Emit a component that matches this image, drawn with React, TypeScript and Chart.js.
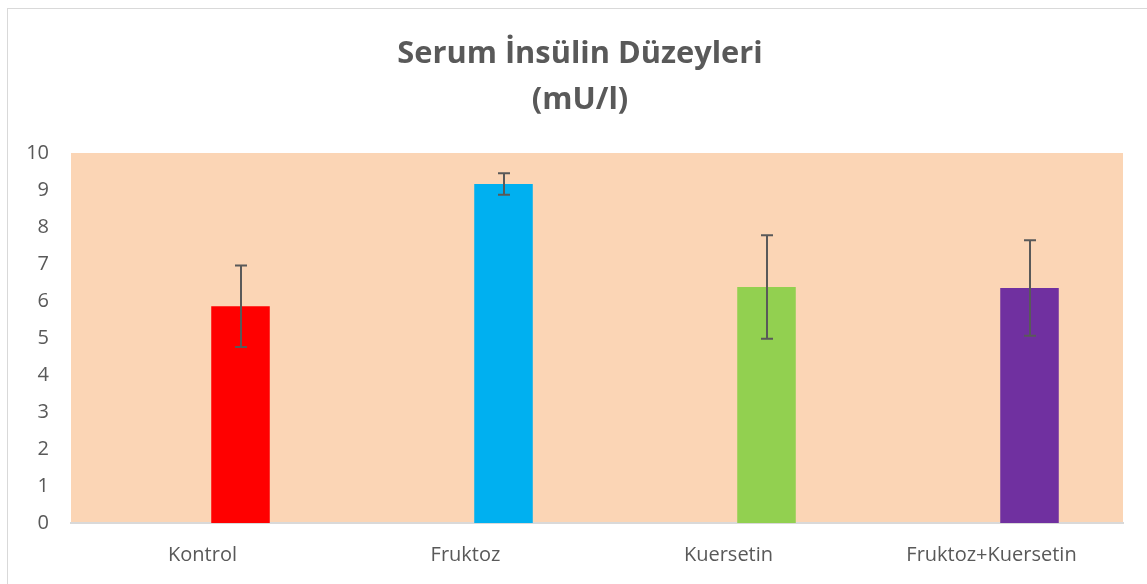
import React, { useEffect, useRef } from "react";
import { Chart, registerables } from "chart.js";

Chart.register(...registerables);

const categories = ["Kontrol", "Fruktoz", "Kuersetin", "Fruktoz+Kuersetin"];
const values = [5.86, 9.16, 6.38, 6.35];
const errors = [1.1, 0.29, 1.4, 1.29];
const barColors = ["#FF0000", "#00B0F0", "#92D050", "#7030A0"];
const titleLines = ["Serum İnsülin Düzeyleri", "(mU/l)"];
const yMin = 0;
const yMax = 10;
const yStep = 1;

const TEXT = "#595959";
const FONT = "'Open Sans', 'DejaVu Sans', sans-serif";

const plotBg = {
  id: "plotBg",
  beforeDraw(chart: any) {
    const { ctx, chartArea } = chart;
    ctx.save();
    ctx.fillStyle = "#FBD5B5";
    ctx.fillRect(chartArea.left, chartArea.top, chartArea.right - chartArea.left, chartArea.bottom - chartArea.top);
    ctx.restore();
  },
};

const errorBars = {
  id: "errorBars",
  afterDatasetsDraw(chart: any) {
    const { ctx } = chart;
    const meta = chart.getDatasetMeta(1);
    const ys = chart.scales.y;
    ctx.save();
    ctx.strokeStyle = "#595959";
    ctx.lineWidth = 2;
    meta.data.forEach((el: any, i: number) => {
      const v = values[i];
      const e = errors[i];
      const x = Math.round(el.x);
      const yt = ys.getPixelForValue(v + e);
      const yb = ys.getPixelForValue(v - e);
      const cap = 6;
      ctx.beginPath();
      ctx.moveTo(x, yt);
      ctx.lineTo(x, yb);
      ctx.moveTo(x - cap, yt);
      ctx.lineTo(x + cap, yt);
      ctx.moveTo(x - cap, yb);
      ctx.lineTo(x + cap, yb);
      ctx.stroke();
    });
    ctx.restore();
  },
};

export default function App() {
  const ref = useRef<HTMLCanvasElement>(null);
  useEffect(() => {
    document.documentElement.style.overflow = "hidden";
    document.body.style.overflow = "hidden";
    const chart = new Chart(ref.current as HTMLCanvasElement, {
      type: "bar",
      data: {
        labels: categories,
        datasets: [
          {
            label: "",
            data: categories.map(() => null),
            backgroundColor: "rgba(0,0,0,0)",
          },
          {
            label: "Serum İnsülin",
            data: values,
            backgroundColor: barColors,
            borderWidth: 0,
          },
        ],
      },
      options: {
        animation: false,
        responsive: false,
        maintainAspectRatio: false,
        layout: { padding: 0 },
        datasets: {
          bar: { categoryPercentage: 0.578, barPercentage: 0.77 },
        },
        plugins: {
          legend: { display: false },
          tooltip: { enabled: false },
          title: {
            display: true,
            text: titleLines,
            color: TEXT,
            font: { family: FONT, size: 30.8, weight: "bold", lineHeight: 46 / 30.8 },
            padding: { top: 21.9, bottom: 30.1 },
          },
        },
        scales: {
          x: {
            grid: { display: false, drawTicks: false },
            border: { display: true, color: "#D9D9D9", width: 2 },
            ticks: { color: TEXT, font: { family: FONT, size: 20 }, padding: 20, maxRotation: 0, autoSkip: false },
            afterFit(scale: any) {
              scale.height = 76;
            },
          },
          y: {
            min: yMin,
            max: yMax,
            grid: { display: false, drawTicks: false },
            border: { display: false },
            ticks: { stepSize: yStep, color: TEXT, font: { family: FONT, size: 20 }, padding: 22 },
            afterFit(scale: any) {
              scale.width = 63;
            },
          },
          yRight: {
            position: "right",
            min: yMin,
            max: yMax,
            grid: { display: false, drawTicks: false },
            border: { display: false },
            ticks: { display: false },
            afterFit(scale: any) {
              scale.width = 29;
            },
          },
        },
      },
      plugins: [plotBg, errorBars],
    } as any);
    return () => chart.destroy();
  }, []);
  return (
    <div
      style={{
        position: "absolute",
        left: 7,
        top: 8,
        width: 1160,
        height: 600,
        border: "1px solid #D9D9D9",
        background: "#fff",
        boxSizing: "border-box",
      }}
    >
      <canvas
        ref={ref}
        width={1144}
        height={590}
        style={{ position: "absolute", left: 0, top: 0, width: 1144, height: 590 }}
      />
    </div>
  );
}
